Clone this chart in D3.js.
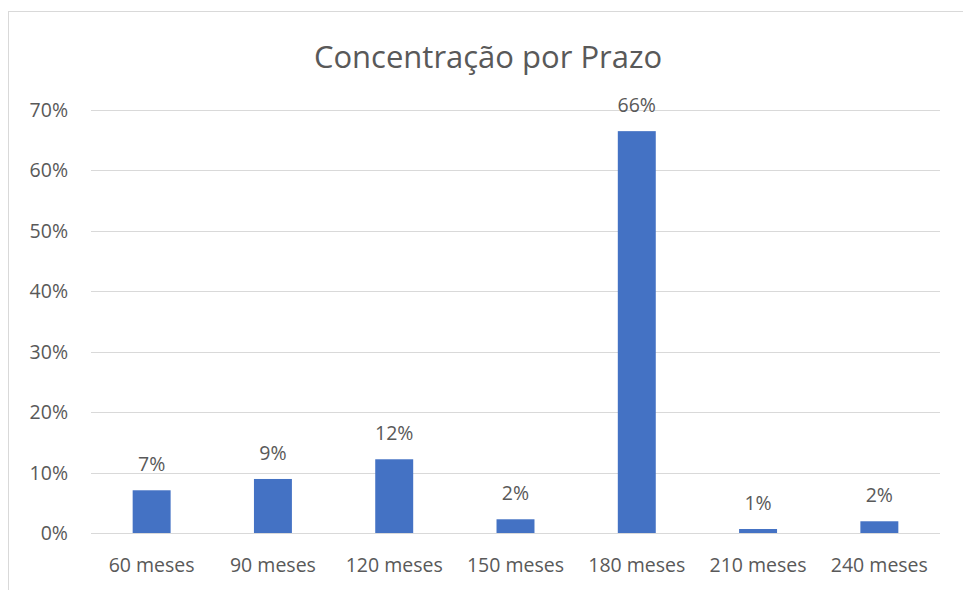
<!DOCTYPE html>
<html>
<head>
<meta charset="utf-8">
<script src="https://cdn.jsdelivr.net/npm/d3@7"></script>
<style>
  body { margin: 0; background: #fff; }
  #chart { width: 963px; height: 590px; }
  text { font-family: "Open Sans", Lato, sans-serif; fill: #595959; }
</style>
</head>
<body>
<div id="chart"></div>
<script>
const categories = ['60 meses', '90 meses', '120 meses', '150 meses', '180 meses', '210 meses', '240 meses'];
const values = [0.0707, 0.0894, 0.122, 0.0227, 0.665, 0.0066, 0.0194];
const labels = ['7%', '9%', '12%', '2%', '66%', '1%', '2%'];
const yTicks = [0, 0.1, 0.2, 0.3, 0.4, 0.5, 0.6, 0.7];

const W = 963, H = 590, M = { t: 110, r: 23, b: 57, l: 91 };
const svg = d3.select('#chart').append('svg').attr('width', W).attr('height', H);

// chart frame
svg.append('rect').attr('x', 8.5).attr('y', 11.5).attr('width', W + 10).attr('height', H + 10)
  .attr('fill', 'none').attr('stroke', '#d9d9d9');

svg.append('text').attr('x', 488).attr('y', 68).attr('text-anchor', 'middle')
  .style('font-size', '31px').text('Concentração por Prazo');

const x = d3.scaleBand().domain(categories).range([M.l, W - M.r]).paddingInner(0.687).paddingOuter(0.3435);
const y = d3.scaleLinear().domain([0, 0.7]).range([H - M.b, M.t]);

svg.append('g').selectAll('line').data(yTicks).enter().append('line')
  .attr('x1', M.l).attr('x2', W - M.r)
  .attr('y1', d => Math.round(y(d)) + 0.5).attr('y2', d => Math.round(y(d)) + 0.5)
  .attr('stroke', '#d9d9d9').attr('stroke-width', 1);

svg.append('g').selectAll('text').data(yTicks).enter().append('text')
  .attr('x', 68).attr('y', d => y(d) + 7).attr('text-anchor', 'end')
  .style('font-size', '19.5px').text(d3.format('.0%'));

svg.append('g').selectAll('text').data(categories).enter().append('text')
  .attr('x', d => x(d) + x.bandwidth() / 2).attr('y', H - M.b + 39).attr('text-anchor', 'middle')
  .style('font-size', '19.5px').text(d => d);

svg.selectAll('rect.bar').data(values).enter().append('rect')
  .attr('class', 'bar')
  .attr('x', (d, i) => x(categories[i])).attr('width', x.bandwidth())
  .attr('y', d => y(d)).attr('height', d => y(0) - y(d))
  .attr('fill', '#4472c4');

svg.append('g').selectAll('text').data(values).enter().append('text')
  .attr('x', (d, i) => x(categories[i]) + x.bandwidth() / 2).attr('y', d => y(d) - 19)
  .attr('text-anchor', 'middle').style('font-size', '19.5px')
  .text((d, i) => labels[i]);
</script>
</body>
</html>
